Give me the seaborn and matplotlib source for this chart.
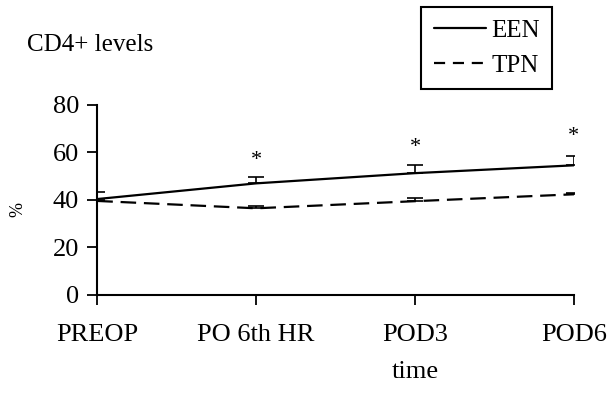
# CD4+ levels, EEN vs TPN
import numpy as np
import pandas as pd
import matplotlib
matplotlib.use("Agg")
import matplotlib.pyplot as plt
import seaborn as sns
from matplotlib.lines import Line2D

times = ["PREOP", "PO 6th HR", "POD3", "POD6"]
een_mean = [40.4, 47.0, 51.3, 54.6]
een_err = [3.0, 2.8, 3.6, 3.8]
tpn_mean = [39.6, 36.5, 39.5, 42.4]
tpn_err = [0.0, 1.1, 1.2, 0.5]
signif = [False, True, True, True]

sns.set_style("ticks", {"text.color": "black", "axes.edgecolor": "black",
                        "xtick.color": "black", "ytick.color": "black",
                        "axes.labelcolor": "black"})
plt.rcParams["font.family"] = ["Liberation Serif", "DejaVu Serif"]

df = pd.DataFrame({
    "pos": list(range(len(times))) * 2,
    "value": een_mean + tpn_mean,
    "group": ["EEN"] * len(times) + ["TPN"] * len(times),
})

fig = plt.figure(figsize=(6.08, 4.03), dpi=100)
ax = fig.add_axes([0.16, 0.268, 0.784, 0.4715])

sns.lineplot(data=df, x="pos", y="value", style="group", color="black",
             dashes={"EEN": "", "TPN": (7, 3.5)}, linewidth=1.6, ax=ax,
             legend=False)

x = np.arange(len(times))
ax.errorbar(x, een_mean, yerr=[np.zeros(len(times)), een_err], fmt="none",
            ecolor="black", elinewidth=1.2, capsize=6, capthick=1.2)
ax.errorbar(x, tpn_mean, yerr=[np.zeros(len(times)), tpn_err], fmt="none",
            ecolor="black", elinewidth=1.2, capsize=6, capthick=1.2)

# significance stars
star_gap = [3, 3, 3, 4.5]
for i, s in enumerate(signif):
    if s:
        top = een_mean[i] + een_err[i]
        ax.text(x[i], top + star_gap[i], "*", ha="center", va="bottom",
                fontsize=16)

ax.set_xlim(0, 3)
ax.set_ylim(0, 80)
ax.set_yticks([0, 20, 40, 60, 80])
ax.set_xticks(x)
ax.set_xticklabels(times)
ax.tick_params(axis="both", labelsize=19, length=7, width=1.3)
ax.tick_params(axis="x", pad=14)
ax.tick_params(axis="y", pad=6)
ax.set_xlabel("")
ax.set_ylabel("")
for sp in ["top", "right"]:
    ax.spines[sp].set_visible(False)
for sp in ["left", "bottom"]:
    ax.spines[sp].set_linewidth(1.5)

fig.text(0.044, 0.888, "CD4+ levels", fontsize=18, va="center")
fig.text(0.03, 0.48, "%", fontsize=13, rotation=90, va="center", ha="center")
fig.text(0.683, 0.077, "time", fontsize=19, ha="center", va="center")

handles = [Line2D([], [], color="black", lw=1.6),
           Line2D([], [], color="black", lw=1.6, dashes=(5, 3.5))]
leg = fig.legend(handles, ["EEN", "TPN"], loc="upper right",
                 bbox_to_anchor=(0.908, 0.983), fontsize=18, frameon=True,
                 fancybox=False, framealpha=1, handlelength=2.1,
                 handletextpad=0.2, borderpad=0.5, labelspacing=0.5,
                 borderaxespad=0)
leg.get_frame().set_edgecolor("black")
leg.get_frame().set_linewidth(1.5)

fig.savefig("out.png", dpi=100)
